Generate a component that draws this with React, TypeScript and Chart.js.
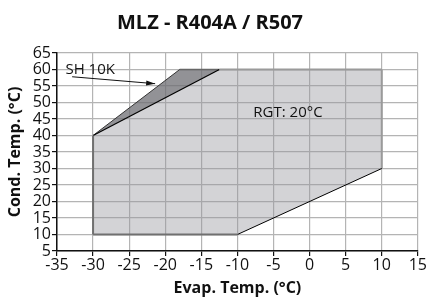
import React, { useEffect, useRef } from "react";
import { Chart, registerables } from "chart.js";
Chart.register(...registerables);

const title = "MLZ - R404A / R507";
const xTitle = "Evap. Temp. (°C)";
const yTitle = "Cond. Temp. (°C)";
const xMin = -35, xMax = 15, xStep = 5;
const yMin = 5, yMax = 65, yStep = 5;

// envelope (evap, cond)
const envelopeX = [-30, -10, 10, 10, -12.5, -30];
const envelopeY = [10, 10, 30, 60, 60, 40];
// SH 10K wedge
const wedgeX = [-30, -18, -12.5];
const wedgeY = [40, 60, 60];

const rgtLabel = "RGT: 20°C";
const rgtPos = [-3, 47];
const shLabel = "SH 10K";
const shPos = [-30.4, 59.9];
const arrowX = [-32.9, -21.4];
const arrowY = [57.8, 55.7];

const FONT = "'Open Sans', 'DejaVu Sans', sans-serif";

const pts = (xs: number[], ys: number[]) => xs.map((x, i) => ({ x, y: ys[i] }));
const seg = (i: number, j: number, xs: number[], ys: number[]) => [
  { x: xs[i], y: ys[i] },
  { x: xs[j], y: ys[j] },
];

const annotationPlugin = {
  id: "annot",
  afterDatasetsDraw(chart: any) {
    const { ctx, scales } = chart;
    const sx = scales.x, sy = scales.y;
    ctx.save();
    ctx.fillStyle = "#111";
    ctx.font = `15px ${FONT}`;
    ctx.textAlign = "center";
    ctx.textBaseline = "middle";
    ctx.fillText(rgtLabel, sx.getPixelForValue(rgtPos[0]), sy.getPixelForValue(rgtPos[1]));
    ctx.fillText(shLabel, sx.getPixelForValue(shPos[0]), sy.getPixelForValue(shPos[1]));
    const x1 = sx.getPixelForValue(arrowX[0]), y1 = sy.getPixelForValue(arrowY[0]);
    const x2 = sx.getPixelForValue(arrowX[1]), y2 = sy.getPixelForValue(arrowY[1]);
    ctx.strokeStyle = "#111";
    ctx.lineWidth = 1;
    ctx.beginPath();
    ctx.moveTo(x1, y1);
    ctx.lineTo(x2, y2);
    ctx.stroke();
    const a = Math.atan2(y2 - y1, x2 - x1);
    const L = 9, W = 2.5;
    ctx.beginPath();
    ctx.moveTo(x2, y2);
    ctx.lineTo(x2 - L * Math.cos(a) + W * Math.sin(a), y2 - L * Math.sin(a) - W * Math.cos(a));
    ctx.lineTo(x2 - L * Math.cos(a) - W * Math.sin(a), y2 - L * Math.sin(a) + W * Math.cos(a));
    ctx.closePath();
    ctx.fill();
    ctx.restore();
  },
};

export default function App() {
  const ref = useRef<HTMLCanvasElement>(null);
  useEffect(() => {
    document.body.style.margin = "0";
    const edge = (data: any, color: string, w = 1.5) => ({
      data,
      showLine: true,
      fill: false,
      borderColor: color,
      borderWidth: w,
      pointRadius: 0,
      order: 0,
    });
    const chart = new Chart(ref.current!, {
      type: "scatter",
      data: {
        datasets: [
          {
            data: pts(envelopeX, envelopeY),
            showLine: true,
            fill: "shape",
            backgroundColor: "rgba(150,150,158,0.42)",
            borderWidth: 0,
            borderColor: "rgba(0,0,0,0)",
            pointRadius: 0,
            order: 2,
          } as any,
          {
            data: pts(wedgeX, wedgeY),
            showLine: true,
            fill: "shape",
            backgroundColor: "rgba(110,110,115,0.75)",
            borderWidth: 0,
            borderColor: "rgba(0,0,0,0)",
            pointRadius: 0,
            order: 1,
          } as any,
          edge(seg(5, 0, envelopeX, envelopeY), "#707070", 2),
          edge(seg(0, 1, envelopeX, envelopeY), "#707070", 2),
          edge(seg(1, 2, envelopeX, envelopeY), "#000", 1),
          edge(seg(2, 3, envelopeX, envelopeY), "#9a9a9a", 2),
          edge(seg(3, 4, envelopeX, envelopeY), "#9a9a9a", 2),
          edge(seg(4, 5, envelopeX, envelopeY), "#000", 1.2),
          edge(seg(0, 1, wedgeX, wedgeY), "#333", 1),
          edge(seg(1, 2, wedgeX, wedgeY), "#666", 1.5),
        ] as any,
      },
      options: {
        animation: false,
        responsive: false,
        maintainAspectRatio: false,
        layout: { padding: { left: 0, right: 7, top: 0, bottom: 0 } },
        plugins: {
          legend: { display: false },
          tooltip: { enabled: false },
          title: {
            display: true,
            text: title,
            color: "#111",
            font: { family: FONT, size: 20, weight: "bold", lineHeight: 1.2 },
            padding: { top: 11, bottom: 18 },
          },
        },
        scales: {
          x: {
            type: "linear",
            min: xMin,
            max: xMax,
            ticks: { stepSize: xStep, autoSkip: false, color: "#111", font: { family: FONT, size: 16 }, padding: 0, maxRotation: 0 },
            grid: { color: "#b4b4b4", lineWidth: 1.2, tickColor: "#111", tickLength: 5 },
            border: { color: "#111", width: 1.5 },
            title: { display: true, text: xTitle, color: "#111", font: { family: FONT, size: 16, weight: "bold" }, padding: { top: 0, bottom: 0 } },
            afterFit: (s: any) => { s.height = 47; },
          },
          y: {
            type: "linear",
            min: yMin,
            max: yMax,
            ticks: { stepSize: yStep, autoSkip: false, color: "#111", font: { family: FONT, size: 16, lineHeight: 1 }, padding: 1 },
            grid: { color: "#b4b4b4", lineWidth: 1.2, tickColor: "#111", tickLength: 5 },
            border: { color: "#111", width: 1.5 },
            title: { display: true, text: yTitle, color: "#111", font: { family: FONT, size: 16, weight: "bold" }, padding: { top: 6, bottom: 0 } },
            afterFit: (s: any) => { s.width = 57; },
          },
        },
      } as any,
      plugins: [annotationPlugin],
    });
    return () => chart.destroy();
  }, []);
  return (
    <div style={{ width: 427, height: 298 }}>
      <canvas ref={ref} width={427} height={298} style={{ width: 427, height: 298, display: "block" }} />
    </div>
  );
}
